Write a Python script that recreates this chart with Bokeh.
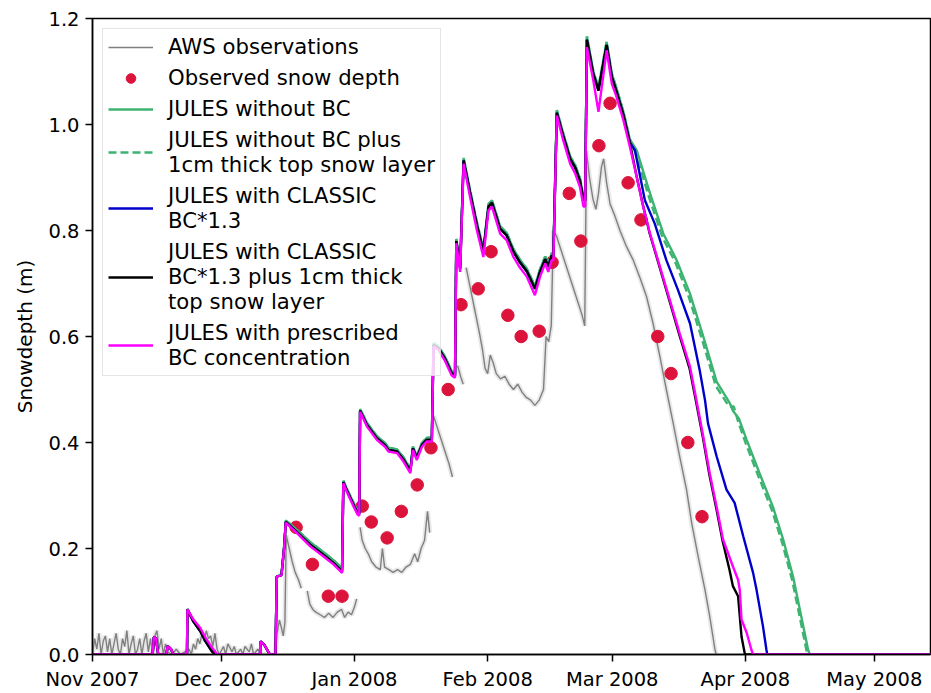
import numpy as np
import pandas as pd
from bokeh.plotting import figure
from bokeh.models import (Legend, LegendItem, FixedTicker, DatetimeTickFormatter,
                          NumeralTickFormatter, Range1d, Title)
from bokeh.embed import file_html
from bokeh.resources import INLINE

# Time axis: all series are given as days since 1 Nov 2007
START = pd.Timestamp("2007-11-01")
X_END_DAY = 195.1
NAN = float("nan")

tick_months = ["2007-11-01", "2007-12-01", "2008-01-01", "2008-02-01",
               "2008-03-01", "2008-04-01", "2008-05-01"]
y_ticks = [0.0, 0.2, 0.4, 0.6, 0.8, 1.0, 1.2]

# Automatic weather station snow depth (m)
aws_day = [0.0, 0.5, 1.0, 1.5, 2.0, 2.5, 3.0, 3.5, 4.0, 4.5, 5.0, 5.5, 6.0, 6.5, 7.0,
           7.5, 8.0, 8.5, 9.0, 9.5, 10.0, 10.5, 11.0, 11.5, 12.0, 12.5, 13.0, 13.5,
           14.0, 14.5, 15.0, 15.5, 16.0, 16.5, 17.0,
           17.5, 18.5, 19.5, 20.5, 21.5, 22.5, 23.0, 23.5, 24.0, 24.5, 25.0, 25.5,
           26.0, 26.5, 27.0, 27.5, 28.0, 28.5, 29.0, 29.5, 30.5, 31.0, 31.5, 32.5,
           33.0, 33.5, 34.5, 35.0, 35.5, 36.5, 37.0, 37.5, 38.5, 39.5, 40.5, 41.5,
           42.5, 43.0, 43.5, 44.0, 44.4, 44.8, 45.1, 45.8, 46.5, 47.2, 48.0, 48.6,
           49.2, 50.0, 50.6, 51.3, 52.0, 53.0, 54.0, 55.0, 56.0, 57.0, 58.0, 58.7,
           59.5, 60.3, 61.0, 61.5, 61.9, 62.3, 62.8, 63.5, 64.2, 65.0, 66.0, 67.0,
           67.5, 68.0, 69.0, 70.0, 71.0, 72.0, 73.0, 74.0, 75.0, 75.7, 76.5, 77.3,
           78.0, 78.5, 79.0, 79.4, 80.2, 81.0, 82.0, 83.0, 83.8, 84.3, 85.0, 85.7,
           86.3, 86.6, 87.0, 88.0, 89.0, 90.0, 90.8, 91.4, 92.0, 92.6, 93.3, 94.0,
           95.0, 96.0, 97.0, 98.0, 99.0, 100.0, 101.0, 102.0, 103.0, 104.0, 105.0,
           105.6, 106.2, 106.8, 107.3, 108.0, 109.0, 110.0, 111.0, 112.0, 113.0,
           114.0, 114.6, 115.0, 115.7, 116.5, 117.2, 117.8, 118.5, 119.0, 119.7,
           120.5, 121.5, 122.8, 124.3, 125.9, 127.5, 129.0, 130.5, 132.1, 133.6,
           135.2, 136.7, 138.3, 139.5, 141.0, 142.6, 143.7, 144.9, 145.2]
aws_depth = [0.00, 0.03, 0.01, 0.04, 0.00, 0.025, 0.035, 0.005, 0.03, 0.00, 0.02, 0.04,
             0.01, 0.00, 0.03, 0.015, 0.045, 0.00, 0.02, 0.035, 0.00, 0.01, 0.03, 0.00,
             0.025, 0.04, 0.005, 0.03, 0.00, 0.035, 0.045, 0.01, 0.03, 0.00, 0.02,
             0.005, 0.0, 0.01, 0.0, 0.005, 0.01, 0.0, 0.02, 0.01, 0.03, 0.02, 0.04,
             0.025, 0.045, 0.03, 0.035, 0.015, 0.04, 0.01, 0.0, 0.015, 0.0, 0.02, 0.005,
             0.015, 0.0, 0.01, 0.0, 0.015, 0.005, 0.02, 0.0, 0.01, 0.0, 0.0, 0.0,
             0.0, 0.04, 0.065, 0.05, 0.035, 0.06, 0.225, 0.20, 0.175, 0.155, 0.14, 0.125,
             NAN, 0.12, 0.095, 0.085, 0.08, 0.075, 0.07, 0.078, 0.07, 0.08, 0.085, 0.07,
             0.08, 0.075, 0.09, 0.105, NAN, 0.24, 0.215, 0.20, 0.19, 0.175, 0.165, 0.16,
             0.20, 0.165, 0.16, 0.155, 0.16, 0.155, 0.165, 0.17, 0.19, 0.175, 0.20, 0.215,
             0.27, 0.23, NAN, 0.45, 0.43, 0.41, 0.385, 0.36, 0.335, NAN, 0.545, 0.525,
             0.51, NAN, 0.73, 0.69, 0.65, 0.61, 0.575, 0.54, 0.53, 0.565, 0.55, 0.53,
             0.52, 0.525, 0.51, 0.50, 0.51, 0.495, 0.485, 0.48, 0.47, 0.48, 0.50,
             0.60, 0.59, 0.62, 0.80, 0.79, 0.765, 0.74, 0.715, 0.69, 0.665,
             0.64, 0.62, 0.95, 0.90, 0.86, 0.84, 0.87, 0.92, 0.935, 0.89,
             0.85, 0.83, 0.80, 0.77, 0.744, 0.71, 0.675, 0.625, 0.562, 0.50,
             0.436, 0.374, 0.311, 0.248, 0.185, 0.122, 0.072, 0.01, 0.0]

# Manual snow depth measurements (m)
obs_day = [47.4, 51.2, 54.9, 58.1, 62.8, 64.9, 68.6, 71.9, 75.6, 78.8, 82.8, 85.8,
           89.8, 92.8, 96.7, 99.8, 104.0, 107.0, 111.0, 113.7, 117.9, 120.5, 124.7,
           127.7, 131.6, 134.7, 138.6, 141.9]
obs_depth = [0.24, 0.17, 0.11, 0.11, 0.28, 0.25, 0.22, 0.27, 0.32, 0.39, 0.50, 0.66,
             0.69, 0.76, 0.64, 0.60, 0.61, 0.74, 0.87, 0.78, 0.96, 1.04, 0.89,
             0.82, 0.60, 0.53, 0.40, 0.26]

# JULES accumulation season (shared time points)
acc_day = [0.0, 14.0, 14.3, 14.8, 15.3, 17.2, 17.5, 18.3, 18.8, 22.0, 22.1, 23.5, 25.1,
           26.3, 27.8, 28.6, 29.0, 39.0, 39.1, 40.0, 41.3, 42.6, 42.9, 44.0, 44.6,
           45.0, 47.6, 50.7, 53.8, 56.1, 58.1, 58.4, 59.3, 60.8, 61.7, 62.1, 62.3,
           63.9, 66.2, 68.1, 68.9, 70.9, 72.4, 74.0, 74.6, 75.5, 76.7, 77.8, 79.0,
           79.4, 80.5, 82.0, 83.6, 84.4, 84.7, 85.6, 86.4, 87.9, 89.5, 91.0, 92.2,
           93.0, 94.9, 96.4, 98.0, 99.5, 101.1, 103.0, 104.2, 105.4, 106.1, 106.9,
           107.3, 108.1, 109.6, 111.2, 112.4, 113.5, 114.3, 114.7, 115.1, 116.6,
           117.8, 119.7, 120.9, 122.0, 123.6, 125.1]
acc_nobc = [0, 0, 0.033, 0.03, 0, 0, 0.016, 0.01, 0, 0, 0.086, 0.064, 0.047, 0.029,
            0.01, 0.003, 0, 0, 0.025, 0.018, 0, 0, 0.147, 0.152, 0.203, 0.253, 0.235,
            0.212, 0.193, 0.178, 0.162, 0.328, 0.311, 0.286, 0.271, 0.269, 0.463,
            0.437, 0.412, 0.399, 0.39, 0.387, 0.372, 0.35, 0.392, 0.375, 0.399, 0.409,
            0.409, 0.587, 0.582, 0.563, 0.535, 0.53, 0.784, 0.733, 0.937, 0.876,
            0.815, 0.765, 0.85, 0.857, 0.808, 0.796, 0.765, 0.745, 0.728, 0.695,
            0.727, 0.751, 0.737, 0.757, 0.757, 1.027, 0.983, 0.94, 0.923, 0.898,
            0.863, 0.861, 1.166, 1.10, 1.07, 1.156, 1.096, 1.068, 1.024, 0.972]
acc_classic = [0, 0, 0.033, 0.03, 0, 0, 0.016, 0.01, 0, 0, 0.085, 0.062, 0.044, 0.025,
               0.006, 0.0, 0, 0, 0.025, 0.018, 0, 0, 0.147, 0.15, 0.2, 0.25, 0.231,
               0.207, 0.188, 0.173, 0.157, 0.325, 0.308, 0.282, 0.267, 0.265, 0.46,
               0.433, 0.408, 0.395, 0.386, 0.383, 0.368, 0.346, 0.389, 0.371, 0.395,
               0.405, 0.405, 0.584, 0.578, 0.559, 0.531, 0.526, 0.78, 0.728, 0.932,
               0.871, 0.81, 0.76, 0.845, 0.852, 0.803, 0.791, 0.76, 0.74, 0.723, 0.69,
               0.722, 0.746, 0.732, 0.752, 0.752, 1.022, 0.978, 0.935, 0.918, 0.893,
               0.858, 0.856, 1.16, 1.095, 1.064, 1.15, 1.09, 1.062, 1.018, 0.966]
acc_prescribed = [0, 0, 0.033, 0.03, 0, 0, 0.016, 0.01, 0, 0, 0.085, 0.066, 0.05, 0.032,
                  0.013, 0.005, 0, 0, 0.025, 0.018, 0, 0, 0.147, 0.15, 0.2, 0.249, 0.229,
                  0.204, 0.185, 0.17, 0.154, 0.323, 0.305, 0.279, 0.264, 0.262, 0.458,
                  0.43, 0.405, 0.392, 0.383, 0.38, 0.364, 0.342, 0.386, 0.367, 0.392,
                  0.402, 0.402, 0.581, 0.575, 0.555, 0.527, 0.522, 0.776, 0.722, 0.926,
                  0.863, 0.80, 0.75, 0.838, 0.845, 0.794, 0.782, 0.75, 0.73, 0.713,
                  0.678, 0.713, 0.738, 0.722, 0.744, 0.744, 1.017, 0.97, 0.926, 0.907,
                  0.882, 0.845, 0.845, 1.146, 1.083, 1.024, 1.14, 1.077, 1.052, 1.008,
                  0.958]

# JULES melt season, one run per list
melt_nobc_day = [126.7, 129.8, 132.9, 136.0, 139.1, 142.2, 145.3, 148.4, 149.1, 150.5,
                 152.3, 155.3, 158.4, 160.8, 163.1, 165.0, 166.6, 167.0, 195.1]
melt_nobc = [0.951, 0.87, 0.794, 0.744, 0.681, 0.60, 0.515, 0.474, 0.46, 0.445, 0.405,
             0.342, 0.279, 0.217, 0.147, 0.072, 0.009, 0.0, 0.0]
melt_nobc_1cm_day = [126.5, 129.6, 132.7, 135.8, 138.9, 142.0, 145.1, 148.2, 149.3,
                     150.3, 152.1, 155.1, 158.2, 160.6, 162.9, 164.8, 166.3, 166.8, 195.1]
melt_nobc_1cm = [0.945, 0.862, 0.787, 0.738, 0.673, 0.592, 0.507, 0.468, 0.468, 0.44,
                 0.398, 0.335, 0.272, 0.21, 0.14, 0.065, 0.005, 0.0, 0.0]
melt_classic_day = [126.3, 128.6, 130.9, 133.6, 136.3, 139.1, 141.4, 142.6, 143.3, 145.3,
                    147.6, 149.5, 151.5, 153.8, 154.6, 156.1, 156.9, 157.1, 195.1]
melt_classic = [0.951, 0.857, 0.813, 0.744, 0.688, 0.625, 0.535, 0.48, 0.436, 0.374,
                0.311, 0.286, 0.223, 0.154, 0.122, 0.053, 0.009, 0.0, 0.0]
melt_classic_1cm_day = [126.6, 128.1, 129.7, 132.0, 134.3, 136.6, 139.0, 140.5, 142.1,
                        143.6, 145.2, 146.7, 148.3, 149.1, 150.3, 151.1, 151.9, 195.1]
melt_classic_1cm = [0.905, 0.85, 0.795, 0.732, 0.668, 0.604, 0.54, 0.478, 0.41, 0.34,
                    0.277, 0.214, 0.16, 0.129, 0.11, 0.034, 0.0, 0.0]
melt_prescribed_day = [126.7, 128.2, 129.8, 132.1, 134.4, 136.7, 139.1, 140.6, 142.2,
                       143.7, 145.3, 146.8, 149.1, 150.3, 150.7, 151.1, 152.3, 153.4,
                       153.8, 195.1]
melt_prescribed = [0.901, 0.845, 0.794, 0.732, 0.669, 0.606, 0.543, 0.48, 0.411, 0.342,
                   0.279, 0.217, 0.166, 0.141, 0.122, 0.066, 0.041, 0.009, 0.0, 0.0]

FONT = "DejaVu Sans"
TICK_FS = "19.5px"
LABEL_FS = "20px"
LEGEND_FS = "21.2px"
Y_LABEL = "Snowdepth (m)"


def to_time(days):
    return START + pd.to_timedelta(np.asarray(days, dtype=float), unit="D")


def to_ms(ts):
    return pd.Timestamp(ts).value / 1e6


p = figure(width=931, height=693, x_axis_type="datetime",
           output_backend="svg", toolbar_location=None,
           x_range=Range1d(to_ms(START), to_ms(START + pd.Timedelta(days=X_END_DAY))),
           y_range=Range1d(0, 1.2),
           min_border_left=92, min_border_right=1, min_border_top=18,
           min_border_bottom=38)

p.xgrid.visible = False
p.ygrid.visible = False
p.outline_line_color = "black"
p.outline_line_width = 1.5
p.background_fill_color = "white"
p.border_fill_color = "white"

for ax in (p.xaxis[0], p.yaxis[0]):
    ax.axis_line_width = 1.5
    ax.major_tick_line_width = 1.5
    ax.major_tick_out = 7
    ax.major_tick_in = 0
    ax.minor_tick_line_color = None
    ax.major_label_text_font = FONT
    ax.major_label_text_font_size = TICK_FS
    ax.major_label_text_color = "black"
    ax.major_label_standoff = 6

p.xaxis[0].ticker = FixedTicker(ticks=[to_ms(m) for m in tick_months])
fmt = "%b %Y"
p.xaxis[0].formatter = DatetimeTickFormatter(
    microseconds=fmt, milliseconds=fmt, seconds=fmt, minsec=fmt, minutes=fmt,
    hourmin=fmt, hours=fmt, days=fmt, months=fmt, years=fmt)
p.yaxis[0].ticker = FixedTicker(ticks=y_ticks)
p.yaxis[0].formatter = NumeralTickFormatter(format="0.0")

# Rotated y-axis title in the left panel, outside the tick labels
p.add_layout(Title(text=Y_LABEL, align="center", text_font=FONT,
                   text_font_size=LABEL_FS, text_font_style="normal",
                   text_color="black", standoff=18), "left")

# AWS record: soft halo plus thin line
aws_t = to_time(aws_day)
p.line(aws_t, aws_depth, line_color="#b4b4b4", line_width=5, line_alpha=0.3)
r_aws = p.line(aws_t, aws_depth, line_color="#808080", line_width=1.4)

r_obs = p.scatter(to_time(obs_day), obs_depth, marker="circle", size=12.5,
                  fill_color="crimson", line_color="crimson")

lw = 2.4
r_nobc = p.line(to_time(acc_day + melt_nobc_day), acc_nobc + melt_nobc,
                line_color="mediumseagreen", line_width=lw)
r_nobc_1cm = p.line(to_time(acc_day + melt_nobc_1cm_day), acc_nobc + melt_nobc_1cm,
                    line_color="mediumseagreen", line_width=lw, line_dash="8 4")
r_classic = p.line(to_time(acc_day + melt_classic_day), acc_classic + melt_classic,
                   line_color="mediumblue", line_width=lw)
r_classic_1cm = p.line(to_time(acc_day + melt_classic_1cm_day),
                       acc_classic + melt_classic_1cm,
                       line_color="black", line_width=lw)
r_presc = p.line(to_time(acc_day + melt_prescribed_day),
                 acc_prescribed + melt_prescribed,
                 line_color="magenta", line_width=lw)

legend = Legend(items=[
    LegendItem(label="AWS observations", renderers=[r_aws]),
    LegendItem(label="Observed snow depth", renderers=[r_obs]),
    LegendItem(label="JULES without BC", renderers=[r_nobc]),
    LegendItem(label="JULES without BC plus\n1cm thick top snow layer",
               renderers=[r_nobc_1cm]),
    LegendItem(label="JULES with CLASSIC\nBC*1.3", renderers=[r_classic]),
    LegendItem(label="JULES with CLASSIC\nBC*1.3 plus 1cm thick\ntop snow layer",
               renderers=[r_classic_1cm]),
    LegendItem(label="JULES with prescribed\nBC concentration", renderers=[r_presc]),
], location="top_left")
legend.label_text_font = FONT
legend.label_text_font_size = LEGEND_FS
legend.label_text_color = "black"
legend.label_text_line_height = 1.22
legend.glyph_width = 45
legend.glyph_height = 24
legend.label_height = 24
legend.label_standoff = 15
legend.padding = 5
legend.spacing = 6
legend.margin = 10
legend.border_line_color = "#cccccc"
legend.border_line_width = 1
legend.background_fill_alpha = 0.8
p.add_layout(legend)

open("out.html", "w").write(file_html(p, INLINE))
